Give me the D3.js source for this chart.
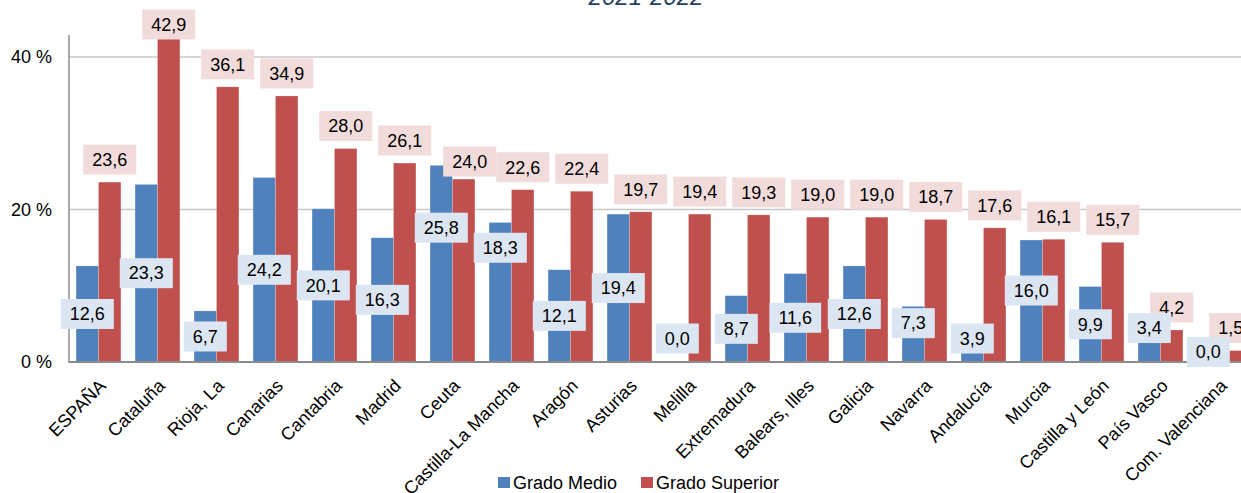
<!DOCTYPE html>
<html>
<head>
<meta charset="utf-8">
<script src="https://cdn.jsdelivr.net/npm/d3@7"></script>
<style>
  html, body { margin: 0; padding: 0; background: #fff; }
  svg { display: block; font-family: "Liberation Sans", Arial, sans-serif; }
</style>
</head>
<body>
<svg id="chart" width="1241" height="493"></svg>
<script>
// ---- data ----
const title = "2021-2022";
const categories = ["ESPAÑA", "Cataluña", "Rioja, La", "Canarias", "Cantabria", "Madrid", "Ceuta",
  "Castilla-La Mancha", "Aragón", "Asturias", "Melilla", "Extremadura", "Balears, Illes", "Galicia",
  "Navarra", "Andalucía", "Murcia", "Castilla y León", "País Vasco", "Com. Valenciana"];
const gradoMedio = [12.6, 23.3, 6.7, 24.2, 20.1, 16.3, 25.8, 18.3, 12.1, 19.4, 0.0, 8.7, 11.6, 12.6,
  7.3, 3.9, 16.0, 9.9, 3.4, 0.0];
const gradoSuperior = [23.6, 42.9, 36.1, 34.9, 28.0, 26.1, 24.0, 22.6, 22.4, 19.7, 19.4, 19.3, 19.0, 19.0,
  18.7, 17.6, 16.1, 15.7, 4.2, 1.5];
const seriesNames = ["Grado Medio", "Grado Superior"];
const yTicks = [0, 20, 40];

// ---- layout / style ----
const W = 1241, H = 493;
const plot = { left: 69, right: 1249, top: 35, bottom: 362 };
const colors = ["#4F81BD", "#C0504D"];
const labelFill = ["#DCE6F2", "#F2DCDB"];
const fontSize = 18;
// manual label displacements (px) seen in the original chart
const gmLabelShift = { "Ceuta": -36, "Castilla-La Mancha": -44.5, "Melilla": -23.5, "Navarra": -11,
  "Andalucía": -8.6, "Murcia": -10.5, "País Vasco": -21, "Com. Valenciana": -10 };
const gsLabelShift = { "Ceuta": [6, 5] };

const svg = d3.select("#chart");
const fmt = v => d3.format(".1f")(v).replace(".", ",");

const x = d3.scaleBand().domain(categories).range([plot.left, plot.right])
  .paddingInner(0.24).paddingOuter(0.12);
const xs = d3.scaleBand().domain([0, 1]).range([0, x.bandwidth()]);
const y = d3.scaleLinear().domain([0, 42.9]).range([plot.bottom, plot.top]);

// gridlines
svg.append("g").selectAll("line").data(yTicks.filter(t => t > 0)).join("line")
  .attr("x1", plot.left).attr("x2", W)
  .attr("y1", d => y(d)).attr("y2", d => y(d))
  .attr("stroke", "#c8c8c8").attr("stroke-width", 1.5);

// y axis (labels)
const yAxis = d3.axisLeft(y).tickValues(yTicks).tickFormat(d => d + " %").tickSize(0).tickPadding(17);
const gy = svg.append("g").attr("transform", `translate(${plot.left},0)`).call(yAxis);
gy.select(".domain").remove();
gy.selectAll("text").attr("font-size", fontSize).attr("fill", "#000")
  .attr("font-family", "'Liberation Sans', Arial, sans-serif");

// bars
const rows = categories.map((c, i) => ({ c, v: [gradoMedio[i], gradoSuperior[i]] }));
const groups = svg.append("g").selectAll("g").data(rows).join("g")
  .attr("transform", d => `translate(${x(d.c)},0)`);
groups.selectAll("rect").data(d => d.v.map((v, s) => ({ v, s }))).join("rect")
  .attr("x", d => xs(d.s)).attr("width", xs.bandwidth())
  .attr("y", d => y(d.v)).attr("height", d => y(0) - y(d.v))
  .attr("fill", d => colors[d.s])
  .attr("stroke", "#ffffff").attr("stroke-opacity", 0.25).attr("stroke-width", 0.75);

// axes lines
svg.append("line").attr("x1", plot.left).attr("x2", plot.left)
  .attr("y1", plot.top).attr("y2", plot.bottom + 1)
  .attr("stroke", "#8c8c8c").attr("stroke-width", 1.5);
svg.append("line").attr("x1", plot.left).attr("x2", W)
  .attr("y1", plot.bottom).attr("y2", plot.bottom)
  .attr("stroke", "#8c8c8c").attr("stroke-width", 2);

// x axis labels
const xAxis = d3.axisBottom(x).tickSize(0).tickPadding(0);
const gx = svg.append("g").attr("transform", `translate(0,${plot.bottom})`).call(xAxis);
gx.select(".domain").remove();
gx.selectAll(".tick text")
  .attr("font-size", fontSize).attr("fill", "#000")
  .attr("font-family", "'Liberation Sans', Arial, sans-serif")
  .attr("text-anchor", "end").attr("dy", 0).attr("y", 0)
  .attr("transform", "translate(8.5,25) rotate(-45)");

// labels
function labelBox(g, cx, cy, text, fill) {
  const t = g.append("text").attr("x", cx).attr("y", cy).attr("dy", "0.35em")
    .attr("text-anchor", "middle").attr("font-size", fontSize).attr("fill", "#000").text(text);
  const bb = t.node().getBBox();
  g.insert("rect", "text").attr("x", cx - bb.width / 2 - 9).attr("y", cy - 15)
    .attr("width", bb.width + 18).attr("height", 30).attr("fill", fill);
}
const gsLabels = svg.append("g");
rows.forEach(d => {
  const sh = gsLabelShift[d.c] || [0, 0];
  const cx = x(d.c) + xs(1) + xs.bandwidth() / 2 + sh[0];
  const cy = Math.max(y(d.v[1]) - 22.5, 24.5) + sh[1];
  labelBox(gsLabels.append("g"), cx, cy, fmt(d.v[1]), labelFill[1]);
});
const gmLabels = svg.append("g");
rows.forEach(d => {
  const cx = x(d.c) + xs(0) + xs.bandwidth() / 2;
  const cy = (y(d.v[0]) + y(0)) / 2 + (gmLabelShift[d.c] || 0);
  labelBox(gmLabels.append("g"), cx, cy, fmt(d.v[0]), labelFill[0]);
});

// title (clipped at top)
svg.append("text").attr("x", 646).attr("y", 5).attr("text-anchor", "middle")
  .attr("font-size", 24).attr("font-style", "italic").attr("fill", "#243F60").text(title);

// legend
const legend = svg.append("g");
const legX = [498, 641];
seriesNames.forEach((n, i) => {
  legend.append("rect").attr("x", legX[i]).attr("y", 477).attr("width", 12).attr("height", 11)
    .attr("fill", colors[i]);
  legend.append("text").attr("x", legX[i] + 15).attr("y", 488.5).attr("font-size", fontSize)
    .attr("fill", "#000").text(n);
});
</script>
</body>
</html>
